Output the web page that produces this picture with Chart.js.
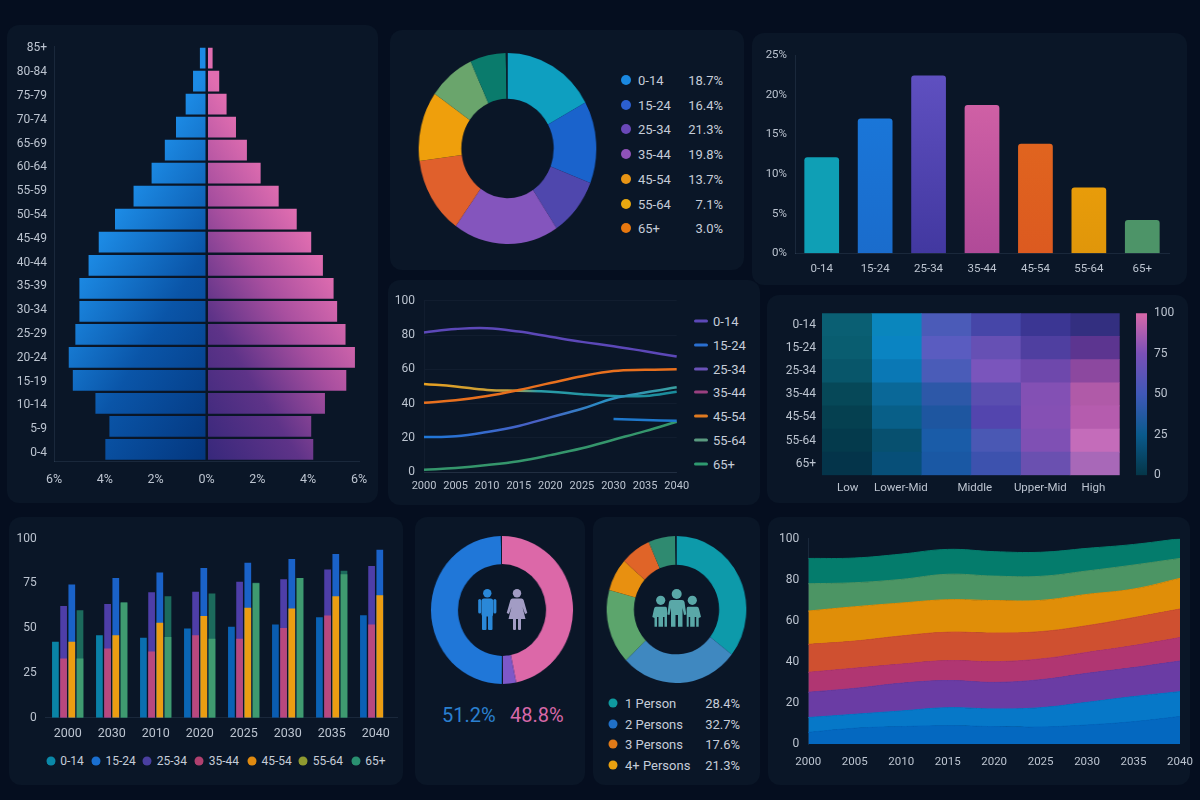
<!DOCTYPE html>
<html>
<head>
<meta charset="utf-8">
<title>Population dashboard</title>
<script src="https://cdn.jsdelivr.net/npm/chart.js@4"></script>
<style>
html, body { margin: 0; padding: 0; width: 1200px; height: 800px; overflow: hidden; background: #050e1f; font-family: Roboto, sans-serif; }
.card { position: absolute; background: #0a1627; border-radius: 12px; }
canvas { position: absolute; }
.txt { position: absolute; white-space: nowrap; line-height: 1; transform: translateY(-50%); }
.dot { position: absolute; border-radius: 50%; transform: translate(-50%, -50%); }
.swatch { position: absolute; height: 3px; border-radius: 2px; transform: translateY(-50%); }
svg { position: absolute; left: 0; top: 0; }
</style>
</head>
<body>
<script>
// ---- data ----
const ageBands = ['85+','80-84','75-79','70-74','65-69','60-64','55-59','50-54','45-49','40-44','35-39','30-34','25-29','20-24','15-19','10-14','5-9','0-4'];
const menPct = [0.26,0.53,0.82,1.2,1.64,2.16,2.87,3.6,4.24,4.64,5.0,5.0,5.16,5.42,5.26,4.37,3.82,3.98];
const womenPct = [0.24,0.5,0.79,1.16,1.59,2.13,2.84,3.55,4.12,4.58,5.0,5.14,5.47,5.84,5.5,4.66,4.12,4.2];

const ageGroups = ['0-14','15-24','25-34','35-44','45-54','55-64','65+'];
const donutLegendPct = ['18.7%','16.4%','21.3%','19.8%','13.7%','7.1%','3.0%'];
const donutSlices = [17.0,13.9,9.8,19.2,13.0,11.8,8.5,6.5,0.3];
const sharePct = [12.1,17,22.4,18.7,13.8,8.3,4.2];

const lineYears = ['2000','2005','2010','2015','2020','2025','2030','2035','2040'];
const line0to14 = [81.5,83.5,84,82,79,76,73.5,70.5,67.5];
const line15to24 = [null,null,null,null,null,null,31,30.5,30];
const line25to34 = [20.5,21,23.5,27,32,37,43,46.5,49.5];
const line45to54 = [40.5,42,44.5,48,52,56,59,59.7,60];
const line55to64 = [51.5,50,48,47.5,47,45.5,44.5,44.5,47];
const line65plus = [1.5,2.5,4.2,6.5,10,14,19,24,29.5];

const heatCols = ['Low','Lower-Mid','Middle','Upper-Mid','High'];
const heatTickPos = [0.52,1.59,3.08,4.4,5.47];
const heatValues = [
  [12,32,52,48,42,38],
  [11,32,56,62,50,55],
  [10,28,52,68,64,75],
  [7,22,40,58,72,88],
  [6,20,36,52,74,90],
  [5,15,35,48,70,97],
  [3,16,34,44,62,80]
];
const scaleTicks = [0,25,50,75,100];

const groupYears = ['2000','2030','2010','2020','2025','2030','2035','2040'];
const grp0to14 = [42.4,46,44.6,49.8,50.7,52,56,57.2];
const grp15to24 = [74.3,78,81,83.6,86.4,88.5,91.4,93.7];
const grp25to34 = [62.4,63.4,70,70.3,75.8,77.3,82.7,84.6];
const grp35to44 = [33,38.6,37,46,44,50,57,52];
const grp45to54 = [42.4,46,53,56.7,61.3,61,67.8,68.4];
const grp55to64 = [33,64.3,45,44,75,78,80,null];
const grp65plus = [60,64.3,67.8,69.3,75.3,78,82,null];

const genderLabels = ['Female','Other','','Male',''];
const genderSlices = [46.8,3.0,0.25,49.7,0.25];
const householdSlices = [35.5,27.4,16.4,7.2,7,6.2,0.3];
const householdLabels = ['1 Person','2 Persons','3 Persons','4+ Persons'];
const householdPct = ['28.4%','32.7%','17.6%','21.3%'];

// upper edge of each band, bottom band first
const areaYears = ['2000','2005','2010','2015','2020','2025','2030','2035','2040'];
const area1 = [5.8,7.8,8.6,9,8.6,8.4,9.4,11,13.5];
const area2 = [13,14.6,16.2,17.8,17.2,17.8,20.4,23.2,25.6];
const area3 = [25.3,27.2,29.7,31,30.1,31.4,34.5,37.3,40.5];
const area4 = [35,37,39,40.7,40.2,41.5,44.7,48,51.9];
const area5 = [48.6,50.2,52.7,54.5,54.1,54.8,57.7,61.6,65.8];
const area6 = [64.8,66.9,68.7,70.3,69.9,70,72.9,75.5,80.7];
const area7 = [78.1,78.6,80.2,82.7,81.8,81.7,84.3,87.2,90.4];
const area8 = [90.4,90.6,92.5,94.8,93.7,93.4,95.3,97.2,100];

// ---- colours ----
const cardBg = '#0a1627';
const tickColor = '#bcc4d0';
const faint = 'rgba(150,175,205,0.12)';
const donutColors = ['#0e9fc0','#1a63cc','#4f47ad','#8455bd','#e0602c','#ef9f0c','#6aa56c','#0a7b6c',cardBg];
const donutDots = ['#1a88e0','#2c5fd0','#6a48b8','#8f52b8','#e89515','#e8a810','#e8780f'];
const shareTop = ['#0f9fb5','#1a76d8','#5f50c0','#cf60a5','#e0641f','#e89c0a','#4d9468'];
const shareBottom = ['#0f9fb5','#1a6ccc','#4238a0','#b04a98','#dc5a20','#e0960a','#4d9468'];
const lineLegend = ['#5c48b8','#2a6fd0','#6a52b8','#9a4080','#e07a20','#5a9a80','#2f9a70'];
const heatColors = [
  ['#0a5f73','#0a86bd','#4b5bb8','#4646a8','#3b3693','#332f80'],
  ['#095d70','#0a84c2','#5a5cc0','#6650b4','#4f3fa0','#5c3590'],
  ['#08566a','#0a78b5','#4a5cb8','#7a55bc','#6e48ac','#8c489f'],
  ['#064858','#0a6898','#2d58a8','#5a4eb0','#8350b4','#b05aa8'],
  ['#054050','#085f88','#1e56a0','#5345ae','#8550b4','#b55cae'],
  ['#043a4c','#07506f','#1a5ca8','#4a58b4','#7f50b4','#c46cba'],
  ['#04344a','#074f78','#1a58a4','#3d52ae','#6a50b0','#a868b8']
];
const grpDots = ['#0a88a8','#1a6fd0','#4a3fa0','#b0406f','#e08a10','#8f9a30','#2a9070'];
const grp0to14Colors = ['#0a84a5','#0a80a8','#0a6fb0','#0a66b5','#0a62b5','#0a5cb0','#0a62b5','#0a60b5'];
const genderColors = ['#dc68a8','#7d58c8',cardBg,'#2077d8',cardBg];
const householdColors = ['#0d9aaa','#3f88c0','#5ca56c','#e89010','#e06428','#2f8a70',cardBg];
const householdDots = ['#0f9a9f','#2070c8','#e07a18','#e8a010'];
const areaColors = ['#0468c0','#0678c8','#6a3ca4','#b03672','#cf5030','#e08e08','#4c9564','#047c6c'];

Chart.defaults.font.family = 'Roboto, sans-serif';
Chart.defaults.font.size = 12;
Chart.defaults.color = tickColor;
Chart.defaults.animation = false;
Chart.defaults.responsive = false;
Chart.defaults.plugins.legend.display = false;

// ---- helpers ----
function card(x, y, x2, y2) {
  let d = document.createElement('div');
  d.className = 'card';
  d.style.cssText = `left:${x}px;top:${y}px;width:${x2-x}px;height:${y2-y}px`;
  document.body.append(d);
}

function text(str, x, y, size, color, right) {
  let s = document.createElement('span');
  s.className = 'txt';
  s.innerText = str;
  s.style.cssText = `top:${y}px;font-size:${size}px;color:${color};` + (right ? `right:${1200-x}px` : `left:${x}px`);
  document.body.append(s);
}

function dot(x, y, size, color) {
  let d = document.createElement('div');
  d.className = 'dot';
  d.style.cssText = `left:${x}px;top:${y}px;width:${size}px;height:${size}px;background:${color}`;
  document.body.append(d);
}

function swatch(x, y, w, color) {
  let d = document.createElement('div');
  d.className = 'swatch';
  d.style.cssText = `left:${x}px;top:${y}px;width:${w}px;background:${color}`;
  document.body.append(d);
}

function newCanvas(x, y, w, h) {
  let c = document.createElement('canvas');
  c.width = w;
  c.height = h;
  c.style.left = x + 'px';
  c.style.top = y + 'px';
  document.body.append(c);
  return c;
}

// box = canvas [x,y,w,h], plot = page coords [left,top,right,bottom] of the chart area
function plotChart(box, plot, config) {
  let c = newCanvas(box[0], box[1], box[2], box[3]);
  let opts = config.options;
  let rightAxis = opts.scales.y.position === 'right';
  opts.layout = { padding: { left: rightAxis ? plot[0]-box[0] : 0, top: plot[1]-box[1], right: rightAxis ? 0 : box[0]+box[2]-plot[2], bottom: 0 } };
  for (let id in opts.scales) {
    let sc = opts.scales[id];
    if (sc.display === false) continue;
    sc.afterFit = s => {
      s.paddingLeft = s.paddingRight = s.paddingTop = s.paddingBottom = 0;
      if (s.isHorizontal()) s.height = box[1]+box[3]-plot[3];
      else if (s.position === 'right') s.width = box[0]+box[2]-plot[2];
      else s.width = sc.fixedWidth !== undefined ? sc.fixedWidth : plot[0]-box[0];
    };
  }
  if (opts.scales.x.display === false) opts.layout.padding.bottom = box[1]+box[3]-plot[3];
  return new Chart(c, config);
}

// cx,cy centre, r vertical radius, sx horizontal squeeze of the reference rings
function ring(cx, cy, r, sx, cut, labels, values, colors) {
  let c = newCanvas(cx-r, cy-r, r*2, r*2);
  c.style.transform = `scaleX(${sx})`;
  new Chart(c, {
    type: 'doughnut',
    data: { labels: labels, datasets: [{ data: values, backgroundColor: colors, borderWidth: 0 }] },
    options: { cutout: cut, layout: { padding: 0 } }
  });
}

function vGrad(ctx, y1, y2, stops) {
  let g = ctx.createLinearGradient(0, y1, 0, y2);
  stops.forEach((s, i) => g.addColorStop(i / (stops.length-1), s));
  return g;
}

// ---- cards ----
card(7,25,378,503);
card(390,30,744,270);
card(752,33,1187,285);
card(388,280,760,505);
card(767,295,1188,503);
card(9,517,403,785);
card(415,517,585,785);
card(593,517,760,785);
card(768,517,1190,785);

// ---- population pyramid ----
function pyramidFill(stops, dir) {
  return c => {
    let a = c.chart.chartArea;
    if (!a) return stops[0][1];
    let x0 = c.chart.scales.x.getPixelForValue(0);
    let g = c.chart.ctx.createLinearGradient(x0, a.bottom+9, x0 + dir*180, a.bottom-103);
    stops.forEach(s => g.addColorStop(s[0], s[1]));
    return g;
  };
}
plotChart([10,30,365,470], [54,46.5,359,461], {
  type: 'bar',
  data: {
    labels: ageBands,
    datasets: [
      { data: menPct.map(v => -v), backgroundColor: pyramidFill([[0,'#03357c'],[0.55,'#0a55a8'],[1,'#1c8ae4']], -1), barPercentage: 0.9, categoryPercentage: 1 },
      { data: womenPct, backgroundColor: pyramidFill([[0,'#34277a'],[0.4,'#5e3388'],[0.7,'#a84f9f'],[1,'#e06db0']], 1), barPercentage: 0.9, categoryPercentage: 1 }
    ]
  },
  options: {
    indexAxis: 'y',
    scales: {
      x: {
        stacked: true, min: -6, max: 6,
        ticks: { stepSize: 2, callback: v => Math.abs(v) + '%', padding: 11, maxRotation: 0, font: { size: 12.5 } },
        grid: { z: 1, drawTicks: false, lineWidth: 2, color: c => c.tick.value === 0 ? cardBg : 'transparent' },
        border: { z: 1, color: faint }
      },
      y: {
        stacked: true, fixedWidth: 0,
        ticks: { display: false },
        grid: { display: false, drawTicks: false },
        border: { color: faint }
      },
      // the reference's age labels run on a slightly wider pitch than its bars
      yLab: {
        type: 'linear', position: 'left', weight: 1, offset: false, reverse: true, min: -0.076, max: 17.34,
        afterBuildTicks: s => { s.ticks = ageBands.map((b, i) => ({ value: i })); },
        ticks: { callback: v => ageBands[v], padding: 7, font: { size: 12 }, autoSkip: false },
        grid: { display: false, drawTicks: false },
        border: { display: false }
      }
    }
  }
});

// ---- age donut ----
ring(507.7, 148.3, 95.5, 0.93, '52%', [...ageGroups, 'Other', ''], donutSlices, donutColors);
ageGroups.forEach((g, i) => {
  let y = 80 + i * 24.7;
  dot(625.7, y, 10, donutDots[i]);
  text(g, 638, y, 13, '#c5ccd8');
  text(donutLegendPct[i], 723, y, 13, '#c5ccd8', true);
});

// ---- share bars ----
plotChart([755,40,430,240], [795,55,1169,253.3], {
  type: 'bar',
  data: {
    labels: ageGroups,
    datasets: [{
      data: sharePct,
      barPercentage: 0.65, categoryPercentage: 1,
      borderRadius: { topLeft: 3, topRight: 3 },
      backgroundColor: c => {
        let a = c.chart.chartArea;
        if (!a) return shareTop[c.dataIndex];
        let y = c.chart.scales.y.getPixelForValue(sharePct[c.dataIndex]);
        return vGrad(c.chart.ctx, y, a.bottom, [shareTop[c.dataIndex], shareBottom[c.dataIndex]]);
      }
    }]
  },
  options: {
    scales: {
      x: { ticks: { padding: 9, font: { size: 11.5 } }, grid: { display: false, drawTicks: false }, border: { color: faint } },
      y: { min: 0, max: 25, ticks: { stepSize: 5, padding: 8, callback: v => v + '%', font: { size: 11.5 } }, grid: { display: false, drawTicks: false }, border: { color: faint } }
    }
  }
});

// ---- lines ----
function hGrad(stops) {
  return c => {
    let a = c.chart.chartArea;
    if (!a) return stops[0][1];
    let g = c.chart.ctx.createLinearGradient(a.left, 0, a.right, 0);
    stops.forEach(s => g.addColorStop(s[0], s[1]));
    return g;
  };
}
function lineSet(label, data, color) {
  return { label: label, data: data, borderColor: color, borderWidth: 2.5, pointRadius: 0, tension: 0.4, fill: false };
}
plotChart([390,285,300,215], [424,300.7,676.7,472.3], {
  type: 'line',
  data: {
    labels: lineYears,
    datasets: [
      lineSet('0-14', line0to14, '#5c48b8'),
      lineSet('15-24', line15to24, '#1f78cc'),
      lineSet('25-34', line25to34, hGrad([[0,'#1f78d8'],[0.45,'#4a5fc4'],[0.7,'#2a8cc4'],[1,'#3aa0a0']])),
      lineSet('45-54', line45to54, '#e8701e'),
      lineSet('55-64', line55to64, hGrad([[0,'#e8a020'],[0.35,'#c0a040'],[0.45,'#2a9ca8'],[1,'#1a8c9c']])),
      lineSet('65+', line65plus, '#35966c')
    ]
  },
  options: {
    scales: {
      x: { ticks: { padding: 7, font: { size: 11 }, maxRotation: 0, autoSkip: false }, grid: { display: false, drawTicks: false }, border: { color: faint } },
      y: { min: 0, max: 100, ticks: { stepSize: 20, padding: 9, font: { size: 12 } }, grid: { color: 'rgba(150,175,205,0.05)', drawTicks: false }, border: { color: 'rgba(150,175,205,0.05)' } }
    }
  }
});
ageGroups.forEach((g, i) => {
  let y = 321.3 + i * 23.7;
  swatch(694, y, 14, lineLegend[i]);
  text(g, 713, y, 13, '#c5ccd8');
});

// ---- heatmap ----
plotChart([770,305,352,195], [822,313.3,1119.7,475.3], {
  type: 'bar',
  data: {
    labels: ageGroups,
    datasets: heatValues[0].map((v, col) => ({
      data: heatValues.map(() => 1),
      backgroundColor: heatColors.map(row => row[col]),
      barPercentage: 1, categoryPercentage: 1, borderWidth: 0,
      cellValues: heatValues.map(row => row[col])
    }))
  },
  options: {
    indexAxis: 'y',
    plugins: { tooltip: { callbacks: { label: c => '' + c.dataset.cellValues[c.dataIndex] } } },
    scales: {
      x: {
        stacked: true, min: 0, max: 6,
        afterBuildTicks: s => { s.ticks = heatTickPos.map(v => ({ value: v })); },
        ticks: { callback: (v, i) => heatCols[i], padding: 6, autoSkip: false, maxRotation: 0, font: { size: 11.5 } },
        grid: { display: false, drawTicks: false }, border: { display: false }
      },
      y: { stacked: true, ticks: { padding: 6, font: { size: 12 } }, grid: { display: false, drawTicks: false }, border: { display: false } }
    }
  }
});
// colour bar
plotChart([1130,305,60,180], [1136,313.3,1147,475.3], {
  type: 'bar',
  data: {
    labels: [''],
    datasets: [{
      data: [100], barPercentage: 1, categoryPercentage: 1,
      backgroundColor: c => {
        let a = c.chart.chartArea;
        if (!a) return '#3f58b8';
        return vGrad(c.chart.ctx, a.bottom, a.top, ['#053648','#0a5a8c','#3f58b8','#7a50b8','#d868a8']);
      }
    }]
  },
  options: {
    scales: {
      x: { display: false },
      y: {
        position: 'right', min: 0, max: 100,
        afterBuildTicks: s => { s.ticks = scaleTicks.map(v => ({ value: v })); },
        ticks: { padding: 7, font: { size: 12 } }, grid: { display: false, drawTicks: false }, border: { display: false }
      }
    }
  }
});

// ---- grouped bars ----
function grpSet(label, data, color, stack, order) {
  return { label: label, data: data, backgroundColor: color, stack: stack, order: order, barPercentage: 0.82, categoryPercentage: 0.745 };
}
plotChart([12,525,388,225], [45.7,538.5,397.7,717.7], {
  type: 'bar',
  data: {
    labels: groupYears,
    datasets: [
      grpSet('0-14', grp0to14, grp0to14Colors, 'a', 0),
      grpSet('35-44', grp35to44, '#b8487e', 'b', 1),
      grpSet('45-54', grp45to54, '#eb9d12', 'c', 1),
      grpSet('55-64', grp55to64, '#3f9a70', 'd', 1),
      grpSet('25-34', grp25to34, '#4e3ea8', 'b', 2),
      grpSet('15-24', grp15to24, '#1a62c8', 'c', 2),
      grpSet('65+', grp65plus, '#1c6a5c', 'd', 2)
    ]
  },
  options: {
    scales: {
      x: { stacked: true, ticks: { padding: 9, font: { size: 12.5 }, autoSkip: false, maxRotation: 0 }, grid: { display: false, drawTicks: false }, border: { color: faint } },
      y: { stacked: false, min: 0, max: 100, ticks: { stepSize: 25, padding: 9, font: { size: 12 } }, grid: { display: false, drawTicks: false }, border: { display: false } }
    }
  }
});
const grpDotX = [50.7,96,147.3,199.3,252,303.3,355.7];
ageGroups.forEach((g, i) => {
  dot(grpDotX[i], 761, 9, grpDots[i]);
  text(g, grpDotX[i] + 9.5, 761, 12, '#c5ccd8');
});

// ---- gender ring ----
ring(502.3, 610, 74.2, 0.96, '62%', genderLabels, genderSlices, genderColors);
text('51.2%', 442, 715, 20, '#2a80d0');
text('48.8%', 510, 715, 20, '#d868a8');

// ---- household ring ----
ring(676.7, 609.3, 73.8, 0.95, '61%', ['1 Person','2 Persons','Other','4+ Persons','3 Persons','',''], householdSlices, householdColors);
householdLabels.forEach((g, i) => {
  let y = 703 + i * 20.6;
  dot(613.3, y, 9, householdDots[i]);
  text(g, 625, y, 13, '#c5ccd8');
  text(householdPct[i], 740, y, 13, '#c5ccd8', true);
});

// ---- stacked area ----
const areaBands = [area1,area2,area3,area4,area5,area6,area7,area8];
plotChart([771,525,429,255], [808.3,538.7,1180,744.3], {
  type: 'line',
  data: {
    labels: areaYears,
    datasets: areaBands.map((band, i) => ({
      data: band, backgroundColor: areaColors[i], borderColor: areaColors[i], borderWidth: 1, pointRadius: 0, tension: 0.4,
      fill: i === 0 ? 'origin' : '-1'
    }))
  },
  options: {
    scales: {
      x: { ticks: { padding: 11, font: { size: 11.5 }, autoSkip: false, maxRotation: 0 }, grid: { display: false, drawTicks: false }, border: { display: false } },
      y: { min: 0, max: 100, ticks: { stepSize: 20, padding: 9, font: { size: 12 } }, grid: { display: false, drawTicks: false }, border: { color: faint } }
    }
  }
});

// ---- pictograms ----
document.body.insertAdjacentHTML('beforeend', `
<svg width="1200" height="800">
  <g fill="#2a88d8">
    <circle cx="487.3" cy="593.3" r="4.2"/>
    <rect x="481.5" y="598.5" width="11.6" height="18" rx="2.5"/>
    <rect x="478.2" y="599" width="3" height="14.5" rx="1.5"/>
    <rect x="493.4" y="599" width="3" height="14.5" rx="1.5"/>
    <rect x="482" y="614" width="4.5" height="16" rx="1"/>
    <rect x="488" y="614" width="4.5" height="16" rx="1"/>
  </g>
  <g fill="#a29cc4">
    <circle cx="517" cy="593.3" r="4.2"/>
    <path d="M512.5 598.5 H521.5 Q523 598.5 523.6 600 L527.3 613 L525 614 L522.5 607 L525.5 619 H508.5 L511.5 607 L509 614 L506.7 613 L510.4 600 Q511 598.5 512.5 598.5 Z"/>
    <rect x="513" y="618" width="3" height="12" rx="1"/>
    <rect x="518" y="618" width="3" height="12" rx="1"/>
  </g>
  <g fill="#5aa8a8">
    <circle cx="660.7" cy="600.3" r="4.6"/>
    <path d="M656 606.7 H665.5 Q667 606.7 667 609 V626.7 H664.5 V617 H663 V626.7 H658.5 V617 H657 V626.7 H654.5 V618 L652.3 617 L654 609 Q654.5 606.7 656 606.7 Z"/>
    <circle cx="676.7" cy="594" r="5"/>
    <path d="M671.5 600 H682 Q684 600 684.5 602 L686.3 614.5 L684 615 L682.5 608 V626.7 H678 V615 H675.5 V626.7 H671 V608 L669.5 615 L667.3 614.5 L669 602 Q669.5 600 671.5 600 Z"/>
    <circle cx="692.3" cy="600.3" r="4.6"/>
    <path d="M688 606.7 H697 Q698.5 606.7 699 609 L701 617 L698.7 618 V626.7 H696.2 V617 H694.7 V626.7 H690.2 V617 H688.7 V626.7 H686.7 V609 Q686.7 606.7 688 606.7 Z"/>
  </g>
</svg>`);
</script>
</body>
</html>
